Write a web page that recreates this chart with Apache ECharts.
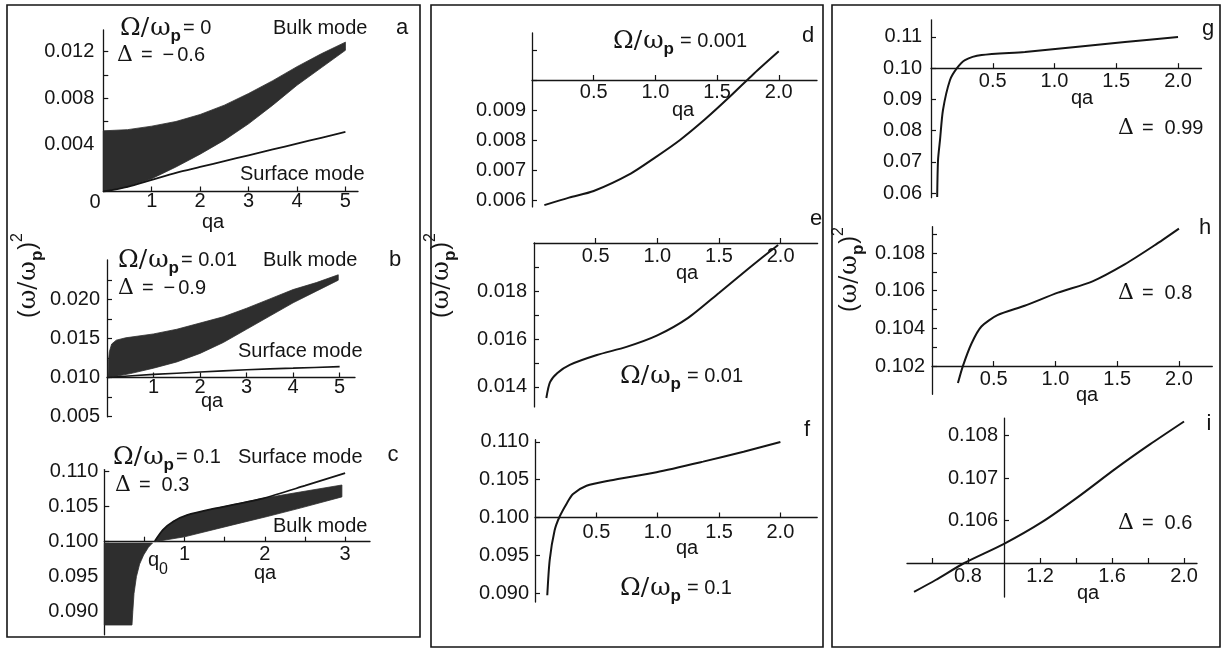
<!DOCTYPE html>
<html>
<head>
<meta charset="utf-8">
<script src="https://cdn.jsdelivr.net/npm/echarts@6.0.0/dist/echarts.min.js"></script>
<style>
  html, body { margin: 0; padding: 0; background: #fff; }
  #chart { width: 1225px; height: 650px; }
</style>
</head>
<body>
<div id="chart"></div>
<script>
// ---------- data: dispersion (ω/ωp)^2 versus qa ----------

// a: Ω/ωp = 0, Δ = −0.6
const aQa       = [0, 0.5, 1, 1.5, 2, 2.5, 3, 3.5, 4, 4.5, 5];
const aBulkHigh = [0.0052, 0.0053, 0.0056, 0.0060, 0.0066, 0.0074, 0.0084, 0.0095, 0.0107, 0.0118, 0.0128];
const aBulkLow  = [0, 0.0004, 0.0011, 0.0021, 0.0032, 0.0044, 0.0058, 0.0074, 0.0091, 0.0106, 0.0121];
const aSurf     = [0, 0.0004, 0.0010, 0.0016, 0.0021, 0.0026, 0.0031, 0.0036, 0.0041, 0.0046, 0.0051];

// b: Ω/ωp = 0.01, Δ = −0.9
const bHighQa   = [0.02, 0.03, 0.05, 0.1, 0.2, 0.4, 1.0, 1.5, 2.0, 2.5, 3.0, 3.5, 4.0, 4.5, 4.97];
const bBulkHigh = [0.0100, 0.0120, 0.0133, 0.0143, 0.0148, 0.0151, 0.0156, 0.0162, 0.0170, 0.0178, 0.0189, 0.0201, 0.0213, 0.0222, 0.0232];
const bLowQa    = [0.02, 0.14, 0.5, 1.0, 1.5, 2.0, 2.5, 3.0, 3.5, 4.0, 4.5, 4.97];
const bBulkLow  = [0.0100, 0.0101, 0.0105, 0.0112, 0.0120, 0.0131, 0.0145, 0.0162, 0.0179, 0.0196, 0.0211, 0.0225];
const bSurfQa   = [0, 1, 2, 3, 4, 5];
const bSurf     = [0.0100, 0.0104, 0.0107, 0.0110, 0.0112, 0.0114];

// c: Ω/ωp = 0.1, Δ = 0.3
const cDipQa    = [0.345, 0.355, 0.37, 0.40, 0.44, 0.49, 0.55, 0.60];
const cDip      = [0.0881, 0.0900, 0.0926, 0.0950, 0.0968, 0.0981, 0.0992, 0.0998];
const cHighQa   = [0.63, 0.73, 0.86, 1.03, 1.4, 1.98, 2.44, 2.96];
const cBulkHigh = [0.1001, 0.1017, 0.1029, 0.1038, 0.1048, 0.1062, 0.1071, 0.1081];
const cLowQa    = [0.63, 1.0, 1.6, 2.03, 2.44, 2.96];
const cBulkLow  = [0.1000, 0.1007, 0.1024, 0.1036, 0.1048, 0.1064];
const cSurfQa   = [0.63, 0.73, 0.86, 1.03, 1.4, 1.98, 2.5, 3.0];
const cSurf     = [0.1001, 0.1017, 0.1029, 0.1038, 0.1048, 0.1062, 0.1080, 0.1098];

// d, e, f: Ω/ωp = 0.001, 0.01, 0.1
const dQa  = [0.1, 0.3, 0.5, 0.8, 1.0, 1.2, 1.4, 1.6, 1.8, 2.0];
const dVal = [0.00583, 0.00608, 0.00630, 0.00688, 0.00742, 0.00800, 0.00868, 0.00943, 0.01022, 0.01096];
const eQa  = [0.1, 0.13, 0.19, 0.29, 0.51, 0.75, 1.0, 1.25, 1.5, 1.75, 1.98];
const eVal = [0.01354, 0.0142, 0.01458, 0.01492, 0.01533, 0.01567, 0.01615, 0.01688, 0.01792, 0.01898, 0.01992];
const fQa  = [0.10, 0.12, 0.16, 0.20, 0.26, 0.31, 0.42, 0.61, 0.99, 1.37, 1.70, 2.0];
const fVal = [0.0897, 0.0944, 0.0983, 0.1001, 0.1019, 0.1031, 0.1042, 0.1049, 0.1060, 0.1074, 0.1087, 0.1100];

// g, h, i: Δ = 0.99, 0.8, 0.6
const gQa  = [0.05, 0.057, 0.073, 0.097, 0.154, 0.21, 0.275, 0.41, 0.76, 1.17, 1.57, 2.0];
const gVal = [0.0587, 0.0706, 0.0770, 0.0866, 0.0962, 0.1000, 0.1026, 0.1042, 0.1052, 0.1068, 0.1084, 0.1100];
const hQa  = [0.21, 0.25, 0.32, 0.40, 0.53, 0.75, 1.02, 1.30, 1.56, 1.80, 2.0];
const hVal = [0.1011, 0.1020, 0.1032, 0.1041, 0.1047, 0.1052, 0.1059, 0.1065, 0.1074, 0.1084, 0.1093];
const iQa  = [0.50, 0.62, 0.78, 1.0, 1.21, 1.41, 1.62, 1.81, 2.0];
const iVal = [0.10432, 0.1046, 0.1050, 0.10545, 0.10596, 0.10655, 0.10722, 0.10779, 0.10833];

// ---------- ticks and tick labels ----------
const aXTicks = [1, 2, 3, 4, 5];              const aXLabels = [1, 2, 3, 4, 5];
const aYTicks = [0.002, 0.004, 0.006, 0.008, 0.010, 0.012];  const aYLabels = [0.004, 0.008, 0.012];
const bXTicks = [1, 2, 3, 4, 5];              const bXLabels = [1, 2, 3, 4, 5];
const bYTicks = [0.005, 0.0075, 0.010, 0.0125, 0.015, 0.0175, 0.020, 0.0225];
const bYLabels = [0.005, 0.010, 0.015, 0.020];
const cXTicks = [0.5, 1, 1.5, 2, 2.5, 3];     const cXLabels = [1, 2, 3];
const cYTicks = [0.090, 0.095, 0.100, 0.105, 0.110];  const cYLabels = [0.090, 0.095, 0.100, 0.105, 0.110];
const dXTicks = [0.5, 1, 1.5, 2];             const dXLabels = [0.5, 1, 1.5, 2];
const dYTicks = [0.006, 0.007, 0.008, 0.009, 0.010, 0.011];  const dYLabels = [0.006, 0.007, 0.008, 0.009];
const eXTicks = [0.5, 1, 1.5, 2];             const eXLabels = [0.5, 1, 1.5, 2];
const eYTicks = [0.014, 0.015, 0.016, 0.017, 0.018, 0.019];  const eYLabels = [0.014, 0.016, 0.018];
const fXTicks = [0.5, 1, 1.5, 2];             const fXLabels = [0.5, 1, 1.5, 2];
const fYTicks = [0.090, 0.095, 0.100, 0.105, 0.110];  const fYLabels = [0.090, 0.095, 0.100, 0.105, 0.110];
const gXTicks = [0.5, 1, 1.5, 2];             const gXLabels = [0.5, 1, 1.5, 2];
const gYTicks = [0.06, 0.07, 0.08, 0.09, 0.10, 0.11];  const gYLabels = [0.06, 0.07, 0.08, 0.09, 0.10, 0.11];
const hXTicks = [0.5, 1, 1.5, 2];             const hXLabels = [0.5, 1, 1.5, 2];
const hYTicks = [0.102, 0.103, 0.104, 0.105, 0.106, 0.107, 0.108, 0.109];
const hYLabels = [0.102, 0.104, 0.106, 0.108];
const iXTicks = [0.6, 0.8, 1.2, 1.4, 1.6, 1.8, 2.0];  const iXLabels = [0.8, 1.2, 1.6, 2.0];
const iYTicks = [0.106, 0.107, 0.108];        const iYLabels = [0.106, 0.107, 0.108];

// ---------- layout ----------
const INK = '#151515';
const BAND = '#2e2e2e';
const SANS = "'Liberation Sans', Arial, sans-serif";
const SERIF = "'DejaVu Serif', 'Liberation Serif', serif";

// box = [left, top, width, height]; x/y = axis ranges; xAt = value where the qa axis crosses,
// yAt = qa where the vertical axis sits
const panels = [
  { box: [103.3, 30, 254.7, 161.5], x: [0, 5.26], y: [0, 0.01384], xAt: 0, yAt: 0,
    xt: aXTicks, xl: aXLabels, yt: aYTicks, yl: aYLabels, xDec: 0, yDec: 3, yGap: 9, xGap: 0 },
  { box: [107, 260, 248, 156.8], x: [0, 5.33], y: [0.00495, 0.0251], xAt: 0.010, yAt: 0,
    xt: bXTicks, xl: bXLabels, yt: bYTicks, yl: bYLabels, xDec: 0, yDec: 3, yGap: 7, xGap: 0 },
  { box: [104.3, 469.6, 265.7, 165.2], x: [0, 3.31], y: [0.0867, 0.1103], xAt: 0.100, yAt: 0,
    xt: cXTicks, xl: cXLabels, yt: cYTicks, yl: cYLabels, xDec: 0, yDec: 3, yGap: 6, xGap: 3 },
  { box: [532, 32.9, 285, 174], x: [0, 2.31], y: [0.00577, 0.01157], xAt: 0.010, yAt: 0,
    xt: dXTicks, xl: dXLabels, yt: dYTicks, yl: dYLabels, xDec: 1, yDec: 3, yGap: 6, xGap: 2 },
  { box: [534, 243, 283.6, 163.9], x: [0, 2.3], y: [0.01317, 0.020], xAt: 0.020, yAt: 0,
    xt: eXTicks, xl: eXLabels, yt: eYTicks, yl: eYLabels, xDec: 1, yDec: 3, yGap: 7, xGap: 3 },
  { box: [535, 439.7, 282.2, 162.4], x: [0, 2.3], y: [0.0888, 0.1103], xAt: 0.100, yAt: 0,
    xt: fXTicks, xl: fXLabels, yt: fYTicks, yl: fYLabels, xDec: 1, yDec: 3, yGap: 6, xGap: 5 },
  { box: [931, 19.8, 270.5, 177.9], x: [0, 2.19], y: [0.0585, 0.1155], xAt: 0.10, yAt: 0,
    xt: gXTicks, xl: gXLabels, yt: gYTicks, yl: gYLabels, xDec: 1, yDec: 2, yGap: 9, xGap: 3 },
  { box: [932, 226.7, 280.3, 167.6], x: [0, 2.27], y: [0.1005, 0.1094], xAt: 0.102, yAt: 0,
    xt: hXTicks, xl: hXLabels, yt: hYTicks, yl: hYLabels, xDec: 1, yDec: 3, yGap: 7, xGap: 3 },
  { box: [907, 418.1, 290, 178.9], x: [0.461, 2.072], y: [0.1042, 0.10841], xAt: 0.105, yAt: 1.0,
    xt: iXTicks, xl: iXLabels, yt: iYTicks, yl: iYLabels, xDec: 1, yDec: 3, yGap: 6, xGap: 3 }
];

const grids = [], xAxes = [], yAxes = [];
panels.forEach((p, i) => {
  const [left, top, width, height] = p.box;
  grids.push({ left, top, width, height, containLabel: false });
  const xOffset = -((p.xAt - p.y[0]) / (p.y[1] - p.y[0])) * height;
  const yOffset = -((p.yAt - p.x[0]) / (p.x[1] - p.x[0])) * width;
  const line = { onZero: false, lineStyle: { color: INK, width: 1.3 } };
  const tick = (vals) => ({ inside: true, length: 5, customValues: vals, lineStyle: { color: INK, width: 1.2 } });
  const label = (vals, dec, gap) => ({
    customValues: vals, margin: gap, color: INK, fontSize: 20, fontFamily: SANS,
    formatter: (v) => Number(v).toFixed(dec)
  });
  xAxes.push({
    type: 'value', gridIndex: i, min: p.x[0], max: p.x[1], position: 'bottom', offset: xOffset,
    axisLine: line, axisTick: tick(p.xt), axisLabel: label(p.xl, p.xDec, p.xGap),
    splitLine: { show: false }
  });
  yAxes.push({
    type: 'value', gridIndex: i, min: p.y[0], max: p.y[1], position: 'left', offset: yOffset,
    axisLine: line, axisTick: tick(p.yt), axisLabel: label(p.yl, p.yDec, p.yGap),
    splitLine: { show: false }
  });
});

const zip = (xs, ys) => xs.map((x, k) => [x, ys[k]]);

function curve(idx, xs, ys, width) {
  return {
    type: 'line', xAxisIndex: idx, yAxisIndex: idx, data: zip(xs, ys),
    symbol: 'none', smooth: 0.25, silent: true,
    lineStyle: { color: INK, width: width || 2 }
  };
}

// filled region bounded by an upper and a lower edge (outline walked through the axis scales)
function band(idx, outline) {
  return {
    type: 'custom', xAxisIndex: idx, yAxisIndex: idx, data: outline, silent: true,
    encode: { x: 0, y: 1 },
    renderItem: (params, api) => {
      if (params.dataIndex !== 0) return null;
      return {
        type: 'polygon',
        shape: { points: outline.map((pt) => api.coord(pt)) },
        style: { fill: BAND, stroke: BAND, lineWidth: 0.8 }
      };
    }
  };
}

const aOutline = zip(aQa, aBulkHigh).concat(zip(aQa, aBulkLow).reverse());
const bOutline = zip(bHighQa, bBulkHigh).concat(zip(bLowQa, bBulkLow).reverse());
const cUpOutline = zip(cHighQa, cBulkHigh).concat(zip(cLowQa, cBulkLow).reverse());
const cDipOutline = [[0, cDip[0]]].concat(zip(cDipQa, cDip), [[0, cDip[cDip.length - 1]]]);

const series = [
  band(0, aOutline), curve(0, aQa, aSurf, 1.8),
  band(1, bOutline), curve(1, bSurfQa, bSurf, 1.6),
  band(2, cDipOutline), band(2, cUpOutline), curve(2, cSurfQa, cSurf, 1.8),
  curve(3, dQa, dVal), curve(4, eQa, eVal), curve(5, fQa, fVal),
  curve(6, gQa, gVal), curve(7, hQa, hVal), curve(8, iQa, iVal)
];

// ---------- text pieces (formulas, labels) ----------
const meas = document.createElement('canvas').getContext('2d');
function fontOf(p) { return (p.b ? 'bold ' : '') + p.s + 'px ' + p.f; }
function textWidth(t, font) { meas.font = font; return meas.measureText(t).width; }

// a row of text pieces starting at (x, y), y = vertical centre of the main line
function run(x, y, parts, rotation) {
  let cx = 0;
  const children = parts.map((p) => {
    const font = fontOf(p);
    cx += p.pre || 0;
    const el = { type: 'text', x: cx, y: p.dy || 0,
      style: { text: p.t, font, fill: INK, align: 'left', verticalAlign: 'middle' } };
    cx += textWidth(p.t, font) + (p.g || 0);
    return el;
  });
  return { type: 'group', x, y, rotation: rotation || 0, silent: true, children };
}

function omega(val, spaced) {
  return [
    { t: 'Ω', f: SERIF, s: 25 },
    { t: '/', f: SERIF, s: 25, g: 1 },
    { t: 'ω', f: SERIF, s: 25 },
    { t: 'p', f: SANS, s: 17, b: true, dy: 8, g: spaced ? 6 : 2 },
    { t: '= ' + val, f: SANS, s: 20 }
  ];
}
function delta(val, negative) {
  const parts = [{ t: 'Δ', f: SERIF, s: 22, g: 8 }, { t: '=', f: SANS, s: 20, g: negative ? 10 : 11 }];
  if (negative) parts.push({ t: '−', f: SANS, s: 20, g: 3 });
  parts.push({ t: val, f: SANS, s: 20 });
  return parts;
}
const title = [
  { t: '(', f: SANS, s: 23, g: 1 }, { t: 'ω', f: SERIF, s: 24 }, { t: '/', f: SERIF, s: 24, g: 1 },
  { t: 'ω', f: SERIF, s: 24 }, { t: 'p', f: SANS, s: 17, b: true, dy: 8, g: 1 },
  { t: ')', f: SANS, s: 23 }, { t: '2', f: SANS, s: 16, dy: -11 }
];
const plain = (x, y, t, size, align) => ({
  type: 'text', x, y, silent: true,
  style: { text: t, font: (size || 20) + 'px ' + SANS, fill: INK, align: align || 'left', verticalAlign: 'middle' }
});
const frame = (x, y, w, h) => ({
  type: 'rect', silent: true, shape: { x, y, width: w, height: h },
  style: { fill: 'none', stroke: INK, lineWidth: 1.6 }
});

const graphics = [
  frame(7, 5, 413, 632), frame(431, 5, 392, 642), frame(832, 5, 388, 642),
  // left column
  run(120, 28, omega('0')), run(117, 55, delta('0.6', true)),
  plain(273, 28, 'Bulk mode'), plain(402, 28, 'a', 22, 'center'),
  plain(240, 174, 'Surface mode'), plain(95, 202, '0', 20, 'center'), plain(213, 222, 'qa', 20, 'center'),
  run(29, 318, title, Math.PI / 2),
  run(118, 260, omega('0.01')), run(118, 288, delta('0.9', true)),
  plain(263, 260, 'Bulk mode'), plain(395, 260, 'b', 22, 'center'),
  plain(238, 351, 'Surface mode'), plain(212, 401, 'qa', 20, 'center'),
  run(113, 457, omega('0.1')), run(115, 485, delta('0.3')),
  plain(238, 457, 'Surface mode'), plain(393, 455, 'c', 22, 'center'),
  plain(273, 526, 'Bulk mode'), plain(265, 573, 'qa', 20, 'center'),
  run(148, 560, [{ t: 'q', f: SANS, s: 20 }, { t: '0', f: SANS, s: 16, dy: 10 }]),
  // middle column
  run(613, 41, omega('0.001', true)), plain(808, 36, 'd', 22, 'center'), plain(683, 110, 'qa', 20, 'center'),
  run(442, 318, title, Math.PI / 2),
  plain(816, 219, 'e', 22, 'center'), plain(687, 273, 'qa', 20, 'center'),
  run(620, 376, omega('0.01', true)),
  plain(807, 430, 'f', 22, 'center'), plain(687, 548, 'qa', 20, 'center'),
  run(620, 588, omega('0.1', true)),
  // right column
  plain(1208, 29, 'g', 22, 'center'), plain(1082, 98, 'qa', 20, 'center'), run(1118, 128, delta('0.99')),
  run(850, 312, title, Math.PI / 2),
  plain(1205, 228, 'h', 22, 'center'), plain(1087, 395, 'qa', 20, 'center'), run(1118, 293, delta('0.8')),
  plain(1209, 424, 'i', 22, 'center'), plain(1088, 593, 'qa', 20, 'center'), run(1118, 523, delta('0.6'))
];

const chart = echarts.init(document.getElementById('chart'), null, { renderer: 'canvas' });
chart.setOption({
  animation: false,
  backgroundColor: '#ffffff',
  grid: grids,
  xAxis: xAxes,
  yAxis: yAxes,
  series,
  graphic: { elements: graphics }
});
</script>
</body>
</html>
